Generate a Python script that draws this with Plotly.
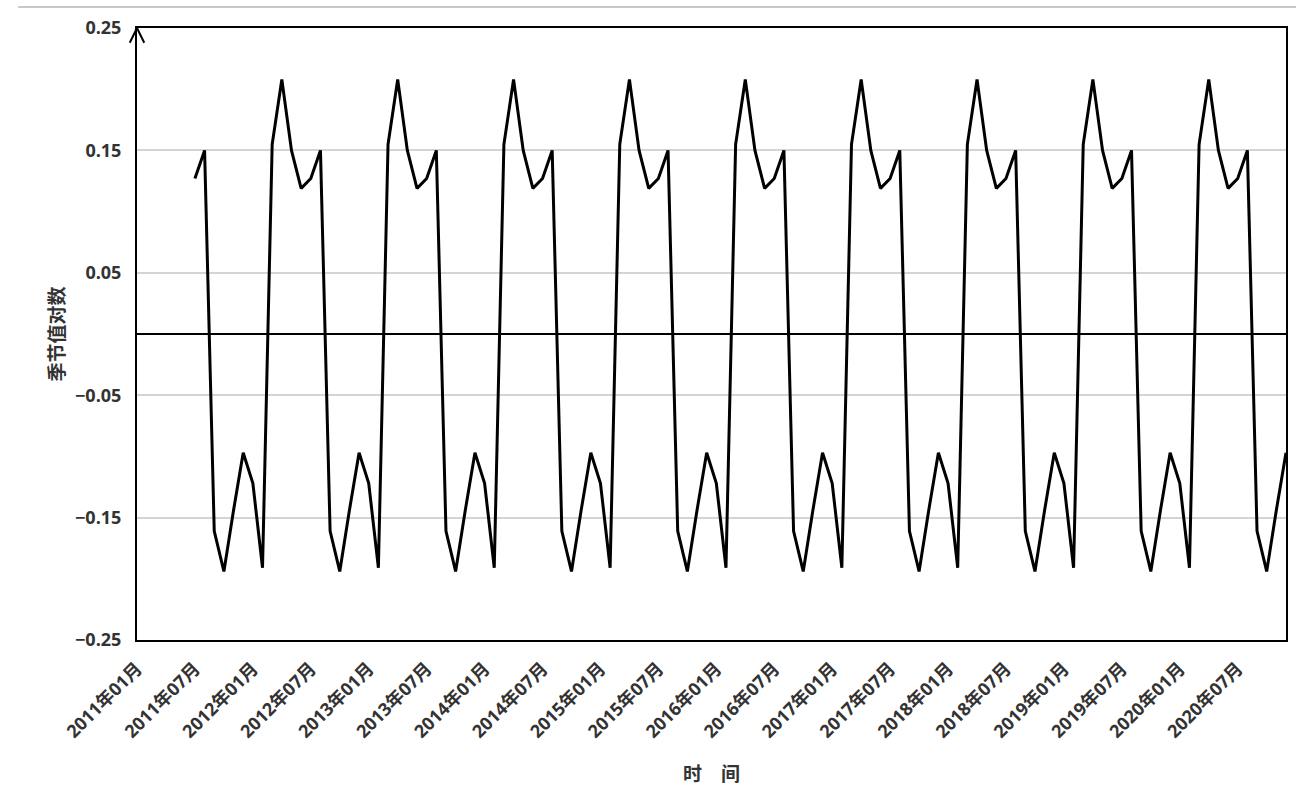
import plotly.graph_objects as go

# Categories: monthly, 2011-01 .. 2020-12
years = list(range(2011, 2021))
months = [f"{y}年{m:02d}月" for y in years for m in range(1, 13)]
tick_labels = [f"{y}年{m:02d}月" for y in years for m in (1, 7)]

# Series: seasonal log values, starting 2011-07
x_start = "2011年07月"
seasonal_values = [
    0.127, 0.150, -0.161, -0.194, -0.144, -0.097,                                   # 2011 Jul-Dec
    -0.122, -0.191, 0.155, 0.208, 0.150, 0.119, 0.127, 0.150, -0.161, -0.194, -0.144, -0.097,  # 2012
    -0.122, -0.191, 0.155, 0.208, 0.150, 0.119, 0.127, 0.150, -0.161, -0.194, -0.144, -0.097,  # 2013
    -0.122, -0.191, 0.155, 0.208, 0.150, 0.119, 0.127, 0.150, -0.161, -0.194, -0.144, -0.097,  # 2014
    -0.122, -0.191, 0.155, 0.208, 0.150, 0.119, 0.127, 0.150, -0.161, -0.194, -0.144, -0.097,  # 2015
    -0.122, -0.191, 0.155, 0.208, 0.150, 0.119, 0.127, 0.150, -0.161, -0.194, -0.144, -0.097,  # 2016
    -0.122, -0.191, 0.155, 0.208, 0.150, 0.119, 0.127, 0.150, -0.161, -0.194, -0.144, -0.097,  # 2017
    -0.122, -0.191, 0.155, 0.208, 0.150, 0.119, 0.127, 0.150, -0.161, -0.194, -0.144, -0.097,  # 2018
    -0.122, -0.191, 0.155, 0.208, 0.150, 0.119, 0.127, 0.150, -0.161, -0.194, -0.144, -0.097,  # 2019
    -0.122, -0.191, 0.155, 0.208, 0.150, 0.119, 0.127, 0.150, -0.161, -0.194, -0.144, -0.097,  # 2020
]
y_ticks = [-0.25, -0.15, -0.05, 0.05, 0.15, 0.25]

x_vals = months[months.index(x_start):months.index(x_start) + len(seasonal_values)]

FONT = "Open Sans, Noto Sans CJK SC"
CJK = "Noto Sans CJK SC"

fig = go.Figure()
fig.add_trace(go.Scatter(
    x=x_vals, y=seasonal_values, mode="lines",
    line=dict(color="black", width=3), showlegend=False,
    hoverinfo="x+y",
))

fig.update_layout(
    width=1298, height=789,
    margin=dict(l=137, r=10, t=28, b=149),
    paper_bgcolor="white", plot_bgcolor="white",
    font=dict(family=FONT, color="#333333"),
    xaxis=dict(
        type="category", categoryorder="array", categoryarray=months,
        range=[0, len(months) - 1],
        tickmode="array", tickvals=tick_labels, ticktext=tick_labels,
        tickangle=-45, tickfont=dict(family=FONT, size=18, color="#333333", weight="bold"),
        showgrid=False, showline=True, mirror=True, linecolor="black", linewidth=2,
        ticks="", zeroline=False, ticklabelstandoff=9,
    ),
    yaxis=dict(
        range=[-0.25, 0.25], tickmode="array", tickvals=y_ticks, tickformat=".2f",
        tickfont=dict(family=FONT, size=18, color="#333333", weight="bold"),
        showgrid=True, gridcolor="#d4d4d4", gridwidth=1.5,
        zeroline=True, zerolinecolor="black", zerolinewidth=1.5,
        showline=True, mirror=True, linecolor="black", linewidth=2,
        ticks="", ticklabelstandoff=10,
    ),
    annotations=[
        dict(text="季节值对数", textangle=-90, xref="paper", yref="paper",
             x=-0.071, y=0.5, xanchor="center", yanchor="middle", showarrow=False,
             font=dict(family=CJK, size=19, color="#333333", weight="bold")),
        dict(text="时　间", xref="paper", yref="paper",
             x=0.5, y=-0.217, xanchor="center", yanchor="middle", showarrow=False,
             font=dict(family=CJK, size=19, color="#333333", weight="bold")),
    ],
    shapes=[
        dict(type="path", xref="paper", yref="paper",
             path="M -0.0063,0.976 L 0,1 L 0.0063,0.976",
             line=dict(color="black", width=2)),
        dict(type="line", xref="paper", yref="paper",
             x0=-0.1034, x1=1.0087, y0=1.0343, y1=1.0343,
             line=dict(color="#c8c8c8", width=2)),
    ],
)

fig.write_html("out.html", config={"displayModeBar": False},
               post_script="document.body.style.margin='0';")
